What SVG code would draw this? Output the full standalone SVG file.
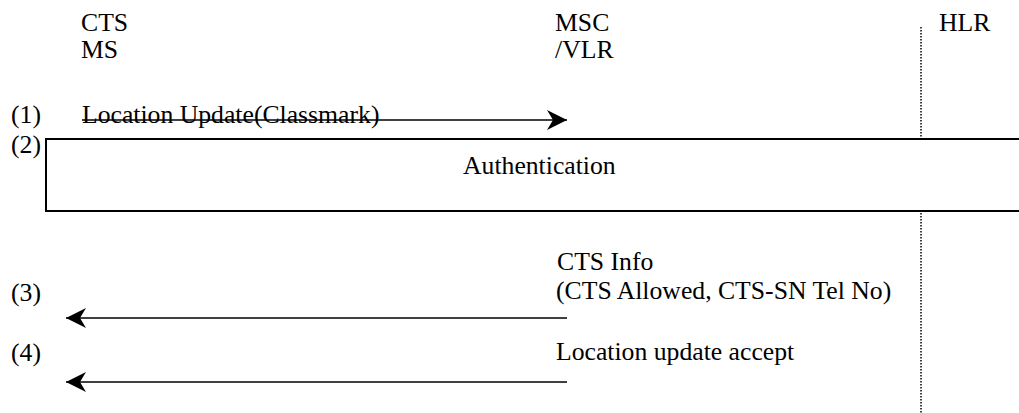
<svg xmlns="http://www.w3.org/2000/svg" width="1019" height="413" viewBox="0 0 1019 413">
  <style>
    .msg { stroke: #000; stroke-width: 1.7; fill: none; }
    .life { stroke: #000; stroke-width: 1.5; stroke-dasharray: 1.5 1.5; fill: none; }
    .box { fill: #fff; stroke: #000; stroke-width: 2; }
  </style>
  <defs>
    <marker id="arrow" viewBox="0 0 20 20" refX="20" refY="10" markerWidth="20" markerHeight="20" markerUnits="userSpaceOnUse" orient="auto">
      <path d="M0,0 L20,10 L0,20 L6,10 Z" fill="#000"/>
    </marker>
  </defs>
  <rect width="1019" height="413" fill="#fff"/>

  <g font-family="'Liberation Serif', 'DejaVu Serif', serif" font-size="25.7" fill="#000">
    <!-- HLR lifeline (dotted), interrupted by the authentication box -->
    <g id="hlr-lifeline">
      <line class="life" x1="921" y1="27" x2="921" y2="413"/>
    </g>

    <!-- Entity headers -->
    <g id="node-cts-ms">
      <text x="81" y="31">CTS</text>
      <text x="81" y="58">MS</text>
    </g>
    <g id="node-msc-vlr">
      <text x="555" y="31">MSC</text>
      <text x="555" y="58">/VLR</text>
    </g>
    <g id="node-hlr">
      <text x="939" y="31">HLR</text>
    </g>

    <!-- Step numbers -->
    <g id="step-labels">
      <text x="11" y="123">(1)</text>
      <text x="11" y="153">(2)</text>
      <text x="11" y="301">(3)</text>
      <text x="11" y="361">(4)</text>
    </g>

    <!-- Authentication procedure box, open to the right -->
    <g id="node-authentication">
      <rect class="box" x="46" y="139" width="990" height="72"/>
      <text x="463" y="174">Authentication</text>
    </g>

    <!-- Messages -->
    <g id="connectors">
      <text x="82" y="123">Location Update(Classmark)</text>
      <line class="msg" x1="82" y1="120" x2="567" y2="120" marker-end="url(#arrow)"/>

      <text x="557" y="270">CTS Info</text>
      <text x="556" y="299">(CTS Allowed, CTS-SN Tel No)</text>
      <line class="msg" x1="567" y1="318" x2="66" y2="318" marker-end="url(#arrow)"/>

      <text x="556" y="360">Location update accept</text>
      <line class="msg" x1="567" y1="382" x2="66" y2="382" marker-end="url(#arrow)"/>
    </g>
  </g>
</svg>
